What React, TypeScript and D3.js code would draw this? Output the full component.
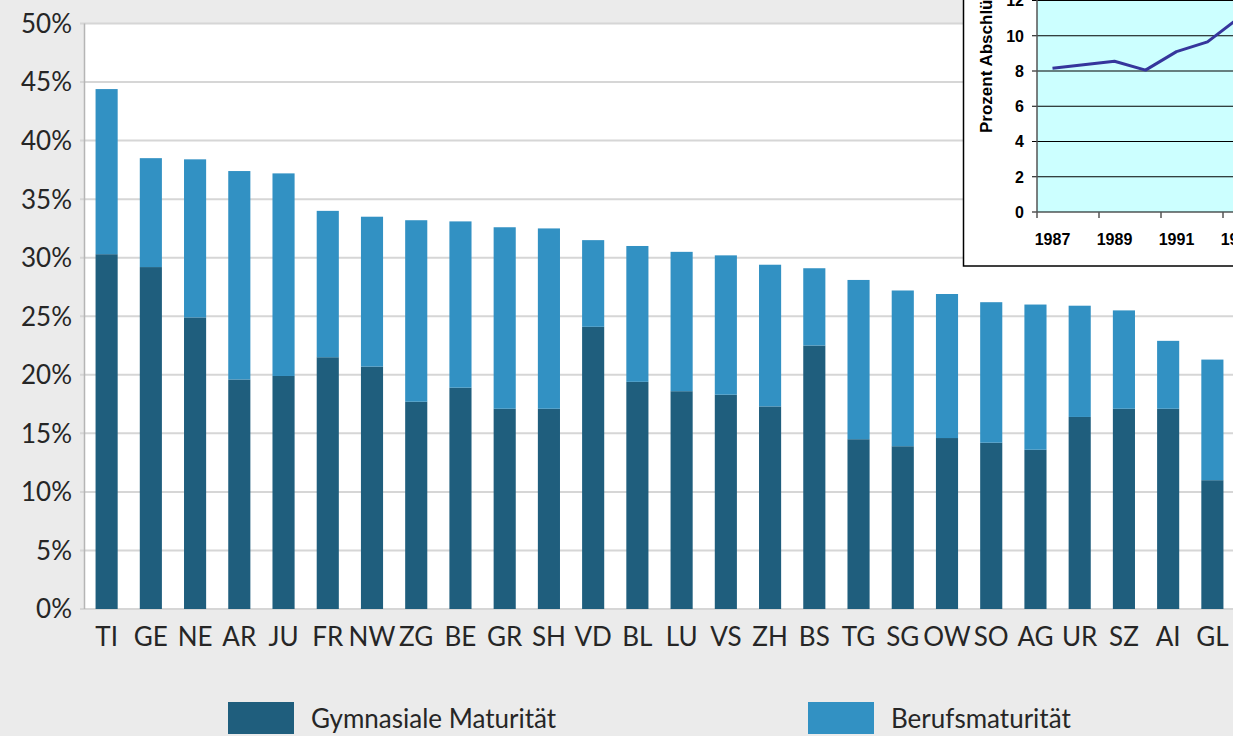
import React, { useEffect } from 'react';
import * as d3 from 'd3';

// Maturitätsquote nach Kanton (in %)
const cantons = ["TI", "GE", "NE", "AR", "JU", "FR", "NW", "ZG", "BE", "GR", "SH", "VD", "BL",
  "LU", "VS", "ZH", "BS", "TG", "SG", "OW", "SO", "AG", "UR", "SZ", "AI", "GL"];
const gymnasial = [30.3, 29.2, 24.9, 19.6, 19.9, 21.5, 20.7, 17.7, 18.9, 17.1, 17.1, 24.1, 19.4,
  18.6, 18.3, 17.3, 22.5, 14.5, 13.9, 14.6, 14.2, 13.6, 16.4, 17.1, 17.1, 11.0];
const beruf = [14.1, 9.3, 13.5, 17.8, 17.3, 12.5, 12.8, 15.5, 14.2, 15.5, 15.4, 7.4, 11.6,
  11.9, 11.9, 12.1, 6.6, 13.6, 13.3, 12.3, 12.0, 12.4, 9.5, 8.4, 5.8, 10.3];
const yTicks = [0, 5, 10, 15, 20, 25, 30, 35, 40, 45, 50];
const legendLabels = ["Gymnasiale Maturität", "Berufsmaturität"];

// inset: Prozent Abschlüsse pro Jahr
const insetYears = ["1987", "1988", "1989", "1990", "1991", "1992", "1993"];
const insetValues = [8.15, 8.35, 8.55, 8.05, 9.1, 9.65, 11.0];
const insetTicks = [0, 2, 4, 6, 8, 10, 12];

const W = 1233;
const H = 736;
const DARK = '#1f5e7d';
const LIGHT = '#3291c3';
const FONT = 'Lato, "Open Sans", sans-serif';
const ARIAL = "Arial, 'Liberation Sans', sans-serif";

export default function App() {
  useEffect(() => {
    document.body.style.margin = '0';
  }, []);

  const x = d3.scaleBand<string>()
    .domain(cantons)
    .range([84.5, 1234.5])
    .paddingInner(0.5)
    .paddingOuter(0.25);

  const y = d3.scaleLinear()
    .domain([0, 50])
    .range([609, 23.5]);

  // stacked data
  const rows = cantons.map((c, i) => ({ canton: c, gym: gymnasial[i], beruf: beruf[i] }));
  const stacked = d3.stack<any>().keys(['gym', 'beruf'])(rows);
  const fills = [DARK, LIGHT];

  // inset scales
  const ix = d3.scaleBand<string>()
    .domain(insetYears)
    .range([1037, 1037 + 31 * insetYears.length]);
  const iy = d3.scaleLinear().domain([0, 12]).range([212, 0.5]);
  const line = d3.line<number>()
    .x((d, i) => (ix(insetYears[i]) as number) + ix.bandwidth() / 2)
    .y(d => iy(d));

  return (
    <svg width={W} height={H} style={{ display: 'block', background: '#ebebeb' }}>
      <rect x={0} y={0} width={W} height={H} fill="#ebebeb" />
      {/* plot area */}
      <rect x={84.5} y={y(50)} width={W - 84.5} height={y(0) - y(50)} fill="#ffffff" />
      {yTicks.map(t => (
        <g key={t}>
          <line x1={80} x2={W} y1={y(t)} y2={y(t)} stroke="#d6d6d6" strokeWidth={2} />
          <text x={72} y={y(t)} dy="0.36em" textAnchor="end" fontFamily={FONT}
            fontSize={26} fill="#262626">{t}%</text>
        </g>
      ))}
      <line x1={84.5} x2={84.5} y1={y(50)} y2={y(0)} stroke="#b5b5b5" strokeWidth={1.5} />

      {/* bars */}
      {stacked.map((s, k) => (
        <g key={k} fill={fills[k]}>
          {s.map((d, i) => (
            <rect key={i} x={x(cantons[i])} width={x.bandwidth()}
              y={y(d[1])} height={y(d[0]) - y(d[1])} />
          ))}
        </g>
      ))}

      {/* category labels */}
      {cantons.map(c => (
        <text key={c} x={(x(c) as number) + x.bandwidth() / 2} y={646} textAnchor="middle"
          fontFamily={FONT} fontSize={26} fill="#262626">{c}</text>
      ))}

      {/* legend */}
      <rect x={228} y={702} width={66} height={32} fill={DARK} />
      <text x={311} y={728} fontFamily={FONT} fontSize={26} fill="#262626">{legendLabels[0]}</text>
      <rect x={808} y={702} width={66} height={32} fill={LIGHT} />
      <text x={891} y={728} fontFamily={FONT} fontSize={26} fill="#262626">{legendLabels[1]}</text>

      {/* inset chart */}
      <g>
        <rect x={963.5} y={-2} width={W} height={268} fill="#ffffff" stroke="#000" strokeWidth={1.5} />
        <rect x={1037} y={-2} width={W} height={214} fill="#ccffff" />
        {insetTicks.map(t => (
          <g key={t}>
            <line x1={1032} x2={W} y1={iy(t)} y2={iy(t)} stroke="#000" strokeWidth={1.2} />
            <text x={1024} y={iy(t)} dy="0.36em" textAnchor="end" fontFamily={ARIAL}
              fontWeight="bold" fontSize={16} fill="#000">{t}</text>
          </g>
        ))}
        <line x1={1037} x2={1037} y1={-2} y2={212} stroke="#555" strokeWidth={1.5} />
        {insetYears.map((yr, i) => i % 2 === 0 ? (
          <g key={yr}>
            <line x1={ix(yr)} x2={ix(yr)} y1={212} y2={218} stroke="#555" strokeWidth={1.5} />
            <text x={(ix(yr) as number) + ix.bandwidth() / 2} y={245} textAnchor="middle"
              fontFamily={ARIAL} fontWeight="bold" fontSize={16} fill="#000">{yr}</text>
          </g>
        ) : null)}
        <path d={line(insetValues) as string} fill="none" stroke="#36369c" strokeWidth={3}
          strokeLinejoin="round" />
        <text transform="translate(992,133) rotate(-90)" fontFamily={ARIAL}
          fontWeight="bold" fontSize={17} fill="#000">Prozent Abschlüsse</text>
      </g>
    </svg>
  );
}
